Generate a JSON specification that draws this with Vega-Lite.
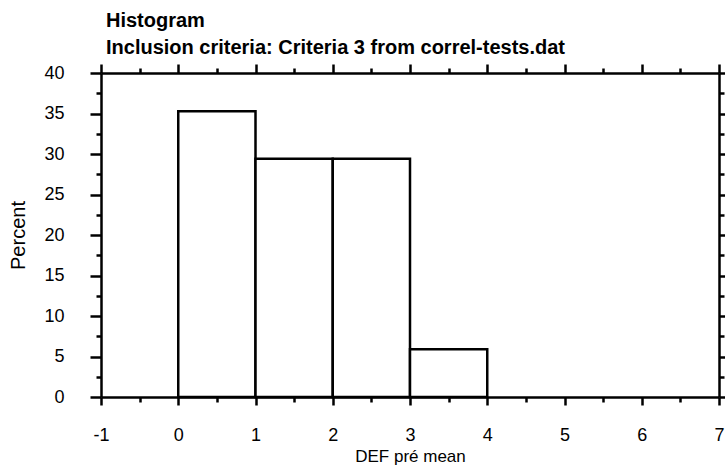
{
  "$schema": "https://vega.github.io/schema/vega-lite/v6.json",
  "width": 618,
  "height": 324,
  "autosize": "none",
  "padding": {"left": 101, "top": 73, "right": 6, "bottom": 75},
  "background": "white",
  "title": {
    "text": "Histogram",
    "subtitle": "Inclusion criteria: Criteria 3 from correl-tests.dat",
    "anchor": "start",
    "frame": "group",
    "font": "Liberation Sans",
    "fontSize": 20,
    "fontWeight": "bold",
    "color": "black",
    "subtitleFont": "Liberation Sans",
    "subtitleFontSize": 20,
    "subtitleFontWeight": "bold",
    "subtitleColor": "black",
    "subtitlePadding": 7,
    "offset": 5,
    "dx": 5
  },
  "config": {
    "view": {"stroke": null},
    "axis": {
      "grid": false,
      "domainColor": "black",
      "domainWidth": 2.5,
      "tickColor": "black",
      "tickWidth": 2.5,
      "labelFont": "Liberation Sans",
      "labelFontSize": 18,
      "labelColor": "black",
      "titleFont": "Liberation Sans",
      "titleFontSize": 17,
      "titleFontWeight": "normal",
      "titleColor": "black"
    }
  },
  "data": {
    "values": [
      {"bin_start": 0, "bin_end": 1, "percent": 35.29},
      {"bin_start": 1, "bin_end": 2, "percent": 29.41},
      {"bin_start": 2, "bin_end": 3, "percent": 29.41},
      {"bin_start": 3, "bin_end": 4, "percent": 5.88}
    ]
  },
  "layer": [
    {
      "mark": {"type": "bar", "fill": "white", "stroke": "black", "strokeWidth": 2.5},
      "encoding": {
        "x": {
          "field": "bin_start",
          "type": "quantitative",
          "scale": {"domain": [-1, 7], "nice": false, "zero": false},
          "axis": {
            "orient": "bottom",
            "title": "DEF pré mean",
            "values": [-1, -0.5, 0, 0.5, 1, 1.5, 2, 2.5, 3, 3.5, 4, 4.5, 5, 5.5, 6, 6.5, 7],
            "tickSize": {"condition": {"test": "datum.value % 1 === 0", "value": 8}, "value": 5},
            "labelExpr": "datum.value % 1 === 0 ? '' + datum.value : ''",
            "labelPadding": 21,
            "labelFlush": false,
            "labelOverlap": false,
            "titlePadding": 4
          }
        },
        "x2": {"field": "bin_end"},
        "y": {
          "field": "percent",
          "type": "quantitative",
          "scale": {"domain": [0, 40], "nice": false},
          "axis": {
            "orient": "left",
            "title": "Percent",
            "titleFontSize": 20,
            "values": [0, 2.5, 5, 7.5, 10, 12.5, 15, 17.5, 20, 22.5, 25, 27.5, 30, 32.5, 35, 37.5, 40],
            "tickSize": {"condition": {"test": "datum.value % 5 === 0", "value": 11}, "value": 5},
            "labelExpr": "datum.value % 5 === 0 ? '' + datum.value : ''",
            "labelPadding": 26,
            "labelFlush": false,
            "labelOverlap": false,
            "titlePadding": 15
          }
        },
        "y2": {"datum": 0}
      }
    },
    {
      "mark": {"type": "bar", "opacity": 0},
      "encoding": {
        "x": {
          "field": "bin_start",
          "type": "quantitative",
          "axis": {
            "orient": "top",
            "title": null,
            "labels": false,
            "values": [-1, -0.5, 0, 0.5, 1, 1.5, 2, 2.5, 3, 3.5, 4, 4.5, 5, 5.5, 6, 6.5, 7],
            "tickSize": {"condition": {"test": "datum.value % 1 === 0", "value": 9}, "value": 5}
          }
        },
        "x2": {"field": "bin_end"},
        "y": {
          "field": "percent",
          "type": "quantitative",
          "axis": {
            "orient": "right",
            "title": null,
            "labels": false,
            "values": [0, 2.5, 5, 7.5, 10, 12.5, 15, 17.5, 20, 22.5, 25, 27.5, 30, 32.5, 35, 37.5, 40],
            "tickSize": {"condition": {"test": "datum.value % 5 === 0", "value": 8}, "value": 5}
          }
        },
        "y2": {"datum": 0}
      }
    }
  ],
  "resolve": {"axis": {"x": "independent", "y": "independent"}}
}
